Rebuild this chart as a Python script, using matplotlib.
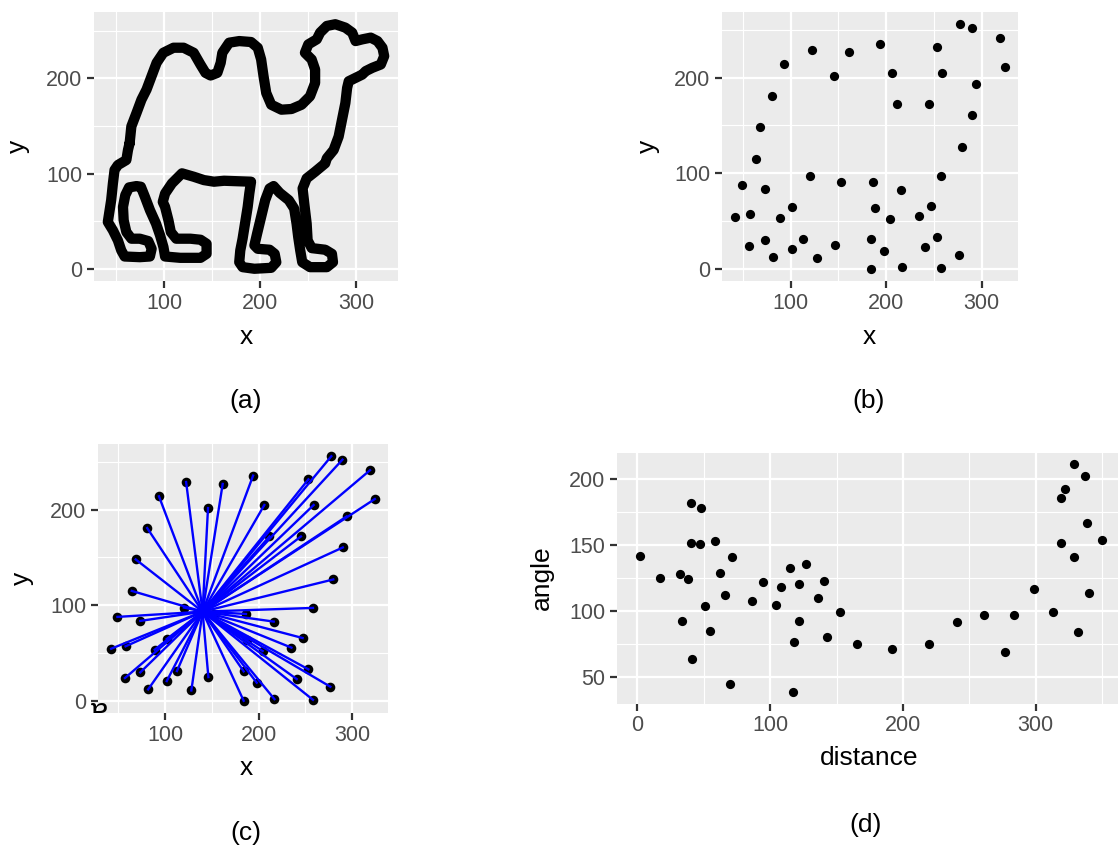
import numpy as np
import matplotlib
matplotlib.use("Agg")
import matplotlib.pyplot as plt
from matplotlib.transforms import Bbox

plt.rcParams['font.family'] = ['Liberation Sans', 'DejaVu Sans']

# Camel outline, traced clockwise from the rump
camel_x = [64.1, 65.9, 71.2, 76.4, 81.7, 87.0, 92.2, 99.2, 109.8, 120.3, 130.8, 137.8, 143.1, 148.4,
           155.4, 158.9, 160.6, 167.7, 178.2, 190.5, 197.5, 201.0, 203.5, 206.3, 211.5, 222.1, 232.6,
           243.1, 251.9, 257.2, 257.2, 253.6, 246.6, 250.1, 258.9, 262.4, 269.4, 278.2, 288.7, 295.8,
           299.3, 306.3, 315.1, 322.1, 327.3, 329.1, 325.6, 316.8, 309.8, 306.3, 299.3, 292.2, 290.5,
           288.7, 285.2, 281.7, 276.5, 269.4, 267.7, 257.2, 248.4, 244.2, 245.9, 248.4, 249.4, 253.7,
           267.7, 274.7, 275.8, 269.4, 251.9, 243.8, 241.7, 239.6, 237.9, 235.4, 229.8, 220.3, 214.0,
           209.8, 205.2, 201.0, 196.8, 194.0, 197.5, 209.8, 215.1, 216.8, 211.5, 194.0, 181.7, 178.2,
           179.3, 181.7, 184.2, 187.0, 188.7, 190.5, 162.4, 151.9, 141.4, 130.9, 118.6, 108.1, 101.0,
           98.6, 101.0, 104.5, 107.0, 112.6, 127.4, 137.9, 144.2, 144.2, 137.9, 116.8, 101.0, 99.3,
           95.8, 91.6, 85.3, 80.0, 75.8, 71.2, 63.5, 59.6, 57.2, 57.9, 60.7, 66.0, 74.7, 83.5, 87.0,
           85.2, 74.7, 58.9, 55.4, 51.9, 46.7, 41.4, 44.9, 46.7, 48.4, 51.9, 60.7, 62.4, 64.1]
camel_y = [132.0, 149.6, 163.6, 177.7, 188.3, 202.4, 216.5, 227.0, 232.3, 232.3, 227.0, 214.7, 205.9, 203.1,
           205.9, 216.5, 227.0, 237.6, 239.3, 238.3, 232.3, 220.0, 202.4, 184.8, 172.4, 167.2, 167.9,
           172.4, 181.3, 195.3, 209.4, 220.0, 227.0, 235.8, 241.1, 248.2, 255.2, 257.0, 253.4, 248.2,
           239.3, 241.1, 242.9, 239.3, 232.3, 223.5, 214.7, 211.2, 207.7, 204.1, 200.6, 197.1, 190.0,
           174.2, 156.6, 139.0, 124.9, 116.1, 110.8, 102.0, 95.0, 84.4, 68.6, 47.4, 29.8, 21.7,
           20.0, 15.7, 6.9, 1.7, 1.7, 6.9, 19.3, 33.4, 47.4, 63.3, 72.1, 79.8, 86.9,
           84.4, 72.1, 54.5, 36.9, 24.6, 21.0, 20.0, 15.7, 6.9, 1.0, 0.0, 1.7, 6.9,
           19.3, 31.6, 47.4, 65.0, 79.1, 91.5, 92.5, 91.5, 93.2, 96.7, 100.3, 89.7, 79.1,
           70.3, 65.0, 51.0, 38.6, 31.6, 31.6, 30.5, 26.3, 15.7, 11.5, 11.5, 12.9, 22.8,
           35.1, 47.4, 61.5, 75.6, 86.2, 86.9, 85.5, 77.4, 65.0, 51.0, 38.6, 31.6, 31.6, 29.1, 21.0,
           12.9, 12.2, 12.9, 19.3, 29.8, 40.4, 49.2, 72.1, 89.7, 103.8, 109.0, 114.3, 124.9, 132.0]

# Sampled points
pts_x = [42.3, 49.0, 57.7, 57.0, 64.3, 68.5, 73.4, 73.4, 80.8, 81.8,
         88.8, 93.4, 101.7, 101.7, 112.6, 120.0, 122.4, 128.0, 145.8, 146.2,
         152.4, 161.5, 183.9, 183.9, 186.4, 188.0, 194.0, 197.9, 204.2, 206.0,
         211.5, 216.0, 216.8, 235.0, 240.6, 245.1, 246.9, 253.1, 253.1, 258.0,
         258.7, 258.0, 276.6, 277.6, 279.7, 289.5, 289.9, 294.0, 318.9, 324.1]
pts_y = [54.5, 87.8, 57.0, 23.8, 115.0, 148.0, 83.6, 29.7, 180.8, 11.9,
         53.5, 214.0, 64.7, 20.6, 31.1, 97.6, 229.0, 10.8, 201.7, 24.8,
         90.9, 227.0, 0.0, 30.8, 90.9, 63.6, 235.7, 18.9, 52.1, 204.9,
         172.0, 82.9, 1.7, 55.6, 22.7, 172.0, 65.7, 231.8, 32.9, 97.2,
         204.9, 1.0, 14.7, 256.0, 127.0, 252.4, 160.5, 193.0, 241.3, 211.2]

center_x, center_y = 140.0, 93.3

# distance / angle pairs
dist = [2.0, 16.8, 31.9, 38.0, 33.2, 40.0, 48.0, 40.7, 47.3, 41.2,
        51.0, 54.3, 58.8, 62.1, 65.9, 70.9, 70.1, 86.0, 94.8, 104.1,
        107.8, 114.9, 121.7, 127.0, 118.2, 121.7, 116.9, 135.7, 140.8, 142.8,
        152.8, 165.7, 191.9, 219.6, 240.8, 261.0, 283.9, 276.8, 298.7, 312.8,
        318.9, 322.2, 329.0, 337.0, 318.9, 329.0, 338.8, 349.9, 340.0, 332.0]
angle = [141.9, 125.2, 128.0, 124.0, 92.9, 181.9, 177.9, 151.7, 150.9, 63.9,
         103.8, 84.9, 153.0, 129.0, 111.9, 140.8, 44.8, 107.8, 121.9, 104.5,
         117.9, 132.8, 120.9, 135.8, 76.8, 92.9, 38.7, 109.8, 122.9, 80.8,
         99.7, 75.0, 71.0, 75.1, 91.9, 97.0, 97.0, 69.0, 116.9, 99.0,
         185.9, 192.7, 211.1, 202.0, 151.9, 140.8, 167.0, 153.9, 113.9, 83.9]

W, H = 1118, 846
fig = plt.figure(figsize=(W / 100, H / 100), dpi=100)


def box(l, r, t, b):
    return [l / W, 1 - b / H, (r - l) / W, (b - t) / H]


def expand(v):
    lo, hi = min(v), max(v)
    r = hi - lo
    return lo - 0.05 * r, hi + 0.05 * r


def gg(ax, xmaj, xmin, ymaj, ymin):
    ax.set_facecolor('#EBEBEB')
    for s in ax.spines.values():
        s.set_visible(False)
    ax.set_xticks(xmaj)
    ax.set_xticks(xmin, minor=True)
    ax.set_yticks(ymaj)
    ax.set_yticks(ymin, minor=True)
    ax.grid(which='major', color='white', lw=1.6)
    ax.grid(which='minor', color='white', lw=0.8)
    ax.set_axisbelow(True)
    ax.tick_params(which='major', length=4.8, width=1.6, color='#333333',
                   labelcolor='#4D4D4D', labelsize=15.5, pad=3.5)
    ax.tick_params(which='minor', length=0)


def txt(x, y, s, **kw):
    kw.setdefault('fontsize', 19)
    return fig.text(x / W, 1 - y / H, s, ha='center', va='center', **kw)


# (a) camel outline
ax1 = fig.add_axes(box(94, 398, 12, 281))
ax1.plot(camel_x, camel_y, color='black', lw=7.4,
         solid_joinstyle='round', solid_capstyle='round')
ax1.set_xlim(expand(camel_x))
ax1.set_ylim(expand(camel_y))
gg(ax1, [100, 200, 300], [50, 150, 250], [0, 100, 200], [50, 150, 250])
txt(246, 337, 'x')
txt(18, 146, 'y', rotation=90)
txt(246, 401, '(a)')

# (b) points
ax2 = fig.add_axes(box(722, 1018, 12, 281))
ax2.scatter(pts_x, pts_y, s=44, color='black', linewidths=0)
ax2.set_xlim(expand(pts_x))
ax2.set_ylim(expand(pts_y))
gg(ax2, [100, 200, 300], [50, 150, 250], [0, 100, 200], [50, 150, 250])
txt(869, 337, 'x')
txt(648, 146, 'y', rotation=90)
txt(869, 401, '(b)')

# (c) rays from the centre to each point
ax3 = fig.add_axes(box(98, 388, 444, 713))
ax3.scatter(pts_x, pts_y, s=48, color='black', linewidths=0, zorder=2)
for px, py in zip(pts_x, pts_y):
    ax3.plot([center_x, px], [center_y, py], color='blue', lw=1.7, zorder=3)
ax3.set_xlim(expand(pts_x))
ax3.set_ylim(expand(pts_y))
gg(ax3, [100, 200, 300], [50, 150, 250], [0, 100, 200], [50, 150, 250])
txt(246, 768, 'x')
txt(22, 578, 'y', rotation=90)
txt(246, 833, '(c)')
stray = txt(99, 712, '\u0250', fontsize=22, color='black')
stray.set_clip_box(Bbox.from_extents(0, H - 713, 200, H))
stray.set_clip_on(True)

# (d) distance vs angle
ax4 = fig.add_axes(box(617, 1125, 453, 703.5))
ax4.scatter(dist, angle, s=44, color='black', linewidths=0)
ax4.set_xlim(expand(dist))
ax4.set_ylim(expand(angle))
gg(ax4, [0, 100, 200, 300], [50, 150, 250, 350], [50, 100, 150, 200], [75, 125, 175])
txt(869, 758, 'distance')
txt(542, 578, 'angle', rotation=90)
txt(866, 825, '(d)')

fig.savefig('out.png', dpi=100)
